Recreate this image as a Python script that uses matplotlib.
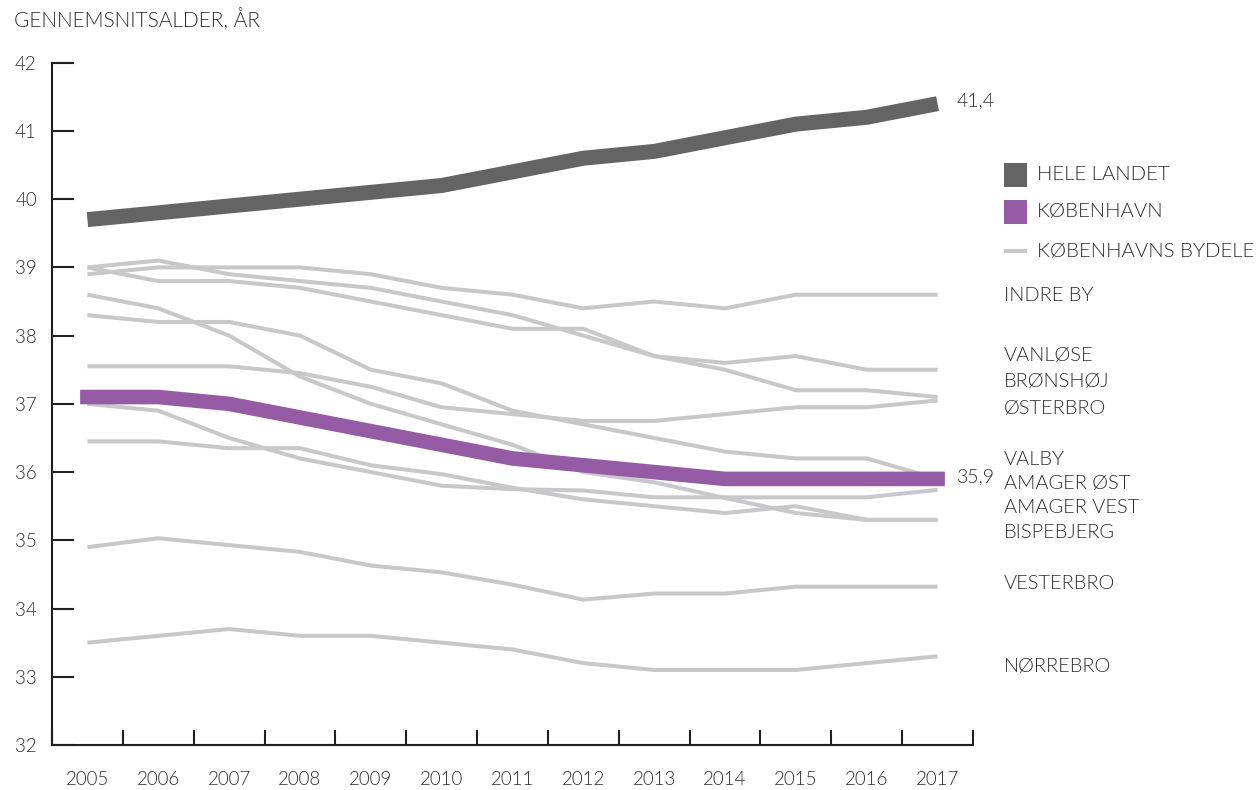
import numpy as np
import matplotlib
matplotlib.use("Agg")
import matplotlib.pyplot as plt
from matplotlib.patches import Rectangle
from matplotlib.lines import Line2D
import matplotlib.transforms as mtransforms

plt.rcParams['font.family'] = ['Lato', 'DejaVu Sans']
plt.rcParams['font.weight'] = 300

# data
years = list(range(2005, 2018))
hele_landet = [39.7, 39.8, 39.9, 40.0, 40.1, 40.2, 40.4, 40.6, 40.7, 40.9, 41.1, 41.2, 41.4]
kobenhavn = [37.1, 37.1, 37.0, 36.8, 36.6, 36.4, 36.2, 36.1, 36.0, 35.9, 35.9, 35.9, 35.9]

bydele = {
    'INDRE BY':    [38.9, 39.0, 39.0, 39.0, 38.9, 38.7, 38.6, 38.4, 38.5, 38.4, 38.6, 38.6, 38.6],
    'VANLØSE':     [39.0, 38.8, 38.8, 38.7, 38.5, 38.3, 38.1, 38.1, 37.7, 37.6, 37.7, 37.5, 37.5],
    'BRØNSHØJ':    [39.0, 39.1, 38.9, 38.8, 38.7, 38.5, 38.3, 38.0, 37.7, 37.5, 37.2, 37.2, 37.1],
    'ØSTERBRO':    [37.55, 37.55, 37.55, 37.45, 37.25, 36.95, 36.85, 36.75, 36.75, 36.85, 36.95, 36.95, 37.05],
    'VALBY':       [38.3, 38.2, 38.2, 38.0, 37.5, 37.3, 36.9, 36.7, 36.5, 36.3, 36.2, 36.2, 35.9],
    'AMAGER ØST':  [37.0, 36.9, 36.5, 36.2, 36.0, 35.8, 35.75, 35.73, 35.63, 35.63, 35.63, 35.63, 35.74],
    'AMAGER VEST': [36.45, 36.45, 36.35, 36.35, 36.1, 35.97, 35.77, 35.6, 35.5, 35.4, 35.5, 35.3, 35.3],
    'BISPEBJERG':  [38.6, 38.4, 38.0, 37.4, 37.0, 36.7, 36.4, 36.0, 35.85, 35.62, 35.4, 35.3, 35.3],
    'VESTERBRO':   [34.9, 35.03, 34.93, 34.83, 34.63, 34.53, 34.35, 34.13, 34.22, 34.22, 34.32, 34.32, 34.32],
    'NØRREBRO':    [33.5, 33.6, 33.7, 33.6, 33.6, 33.5, 33.4, 33.2, 33.1, 33.1, 33.1, 33.2, 33.3],
}
# where the district names sit on the right (y in data units)
label_y = [38.59, 37.71, 37.33, 36.93, 36.18, 35.83, 35.48, 35.12, 34.37, 33.15]

W, H = 1259, 790
GRAY = '#c8c8ca'
PURPLE = '#955ba5'
DARK = '#646464'
AXC = '#231f20'
TXT = '#2b2b2b'

fig = plt.figure(figsize=(W / 100, H / 100), dpi=100)
ax = fig.add_axes([52 / W, (H - 745) / H, (973 - 52) / W, (745 - 62.7) / H])

for name, vals in bydele.items():
    ax.plot(years, vals, color=GRAY, lw=2.9, solid_capstyle='butt',
            solid_joinstyle='miter', zorder=2)
ax.plot(years, kobenhavn, color=PURPLE, lw=10.5, solid_capstyle='projecting',
        solid_joinstyle='miter', zorder=3)
ax.plot(years, hele_landet, color=DARK, lw=10.8, solid_capstyle='butt',
        solid_joinstyle='miter', zorder=3)

ax.set_xlim(2004.5, 2017.5)
ax.set_ylim(32, 42)

for s in ['top', 'right']:
    ax.spines[s].set_visible(False)
for s in ['left', 'bottom']:
    ax.spines[s].set_color(AXC)
    ax.spines[s].set_linewidth(1.5)

ax.set_yticks(range(32, 43))
ax.tick_params(axis='y', direction='in', length=16, width=1.5, color=AXC,
               pad=11, labelsize=13.5, labelcolor=TXT)
ax.set_xticks(np.arange(2004.5, 2018, 1.0))
ax.set_xticklabels([])
ax.tick_params(axis='x', which='major', direction='in', length=11, width=1.5, color=AXC)
ax.set_xticks(years, minor=True)
ax.set_xticklabels([str(y) for y in years], minor=True)
ax.tick_params(axis='x', which='minor', length=0, pad=19, labelsize=13.5, labelcolor=TXT)

# end values
ax.annotate('41,4', (years[-1], hele_landet[-1]), xytext=(14, 2), textcoords='offset points',
            va='center', ha='left', fontsize=14, color=TXT)
ax.annotate('35,9', (years[-1], kobenhavn[-1]), xytext=(14, 1), textcoords='offset points',
            va='center', ha='left', fontsize=14, color=TXT)

# district names
trans = mtransforms.blended_transform_factory(fig.transFigure, ax.transData)
for name, yv in zip(bydele.keys(), label_y):
    fig.text(1004 / W, yv, name, transform=trans, va='center', ha='left',
             fontsize=14.4, color=TXT)

# legend
legend_items = [('HELE LANDET', DARK, 'box'), ('KØBENHAVN', PURPLE, 'box'),
                ('KØBENHAVNS BYDELE', GRAY, 'line')]
rows_y = [175, 212, 251]
for (lab, col, kind), ry in zip(legend_items, rows_y):
    if kind == 'box':
        fig.add_artist(Rectangle((1004 / W, (H - ry - 11.5) / H), 23 / W, 23 / H,
                                 transform=fig.transFigure, color=col, lw=0))
    else:
        fig.add_artist(Line2D([1004 / W, 1027 / W], [(H - ry) / H] * 2,
                              transform=fig.transFigure, color=col, lw=2.9,
                              solid_capstyle='butt'))
    fig.text(1037 / W, (H - ry) / H, lab, va='center', ha='left', fontsize=14.7, color=TXT)

fig.text(14 / W, (H - 20) / H, 'GENNEMSNITSALDER, ÅR', va='center', ha='left',
         fontsize=15, color=TXT)

fig.savefig('out.png', dpi=100)
